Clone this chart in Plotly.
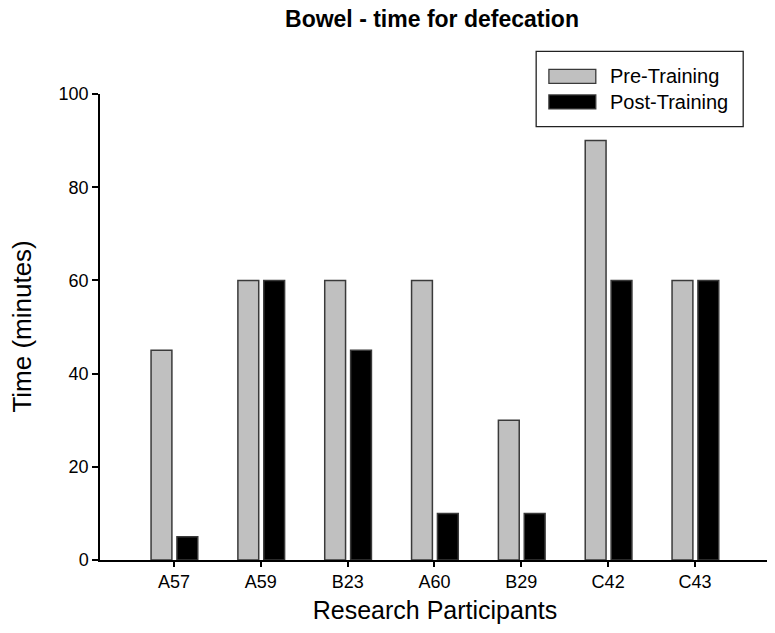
import plotly.graph_objects as go

# participantes y tiempos (minutos)
participants = ['A57', 'A59', 'B23', 'A60', 'B29', 'C42', 'C43']
pre_training = [45, 60, 60, 60, 30, 90, 60]
post_training = [5, 60, 45, 10, 10, 60, 60]

FONT = 'Arial, Liberation Sans, sans-serif'
GRIS = '#c0c0c0'
BORDE = '#3a3a3a'

# la pagina tiene 8px de margen en el body, se compensa en el tamaño
W, H = 767, 617

trace_pre = go.Bar(
    x=participants, y=pre_training, name='Pre-Training',
    offset=-0.264, width=0.24,
    marker=dict(color=GRIS, line=dict(color=BORDE, width=1.5)),
    showlegend=False,
)
trace_post = go.Bar(
    x=participants, y=post_training, name='Post-Training',
    offset=0.034, width=0.24,
    marker=dict(color='black', line=dict(color=BORDE, width=1.5)),
    showlegend=False,
)

fig = go.Figure(data=[trace_pre, trace_post])

# leyenda dibujada a mano (caja + muestras + textos)
shapes = [
    dict(type='rect', xref='paper', yref='paper', x0=0.651, x1=0.960, y0=0.930, y1=1.0915,
         line=dict(color='#222', width=1.3), fillcolor='white', layer='above'),
    dict(type='rect', xref='paper', yref='paper', x0=0.670, x1=0.740, y0=1.023, y1=1.053,
         line=dict(color=BORDE, width=1.3), fillcolor=GRIS),
    dict(type='rect', xref='paper', yref='paper', x0=0.670, x1=0.740, y0=0.968, y1=0.998,
         line=dict(color=BORDE, width=1.3), fillcolor='black'),
]
annotations = [
    dict(xref='paper', yref='paper', x=0.758, y=1.038, text='Pre-Training', showarrow=False,
         xanchor='left', yanchor='middle', font=dict(family=FONT, size=20, color='black')),
    dict(xref='paper', yref='paper', x=0.758, y=0.983, text='Post-Training', showarrow=False,
         xanchor='left', yanchor='middle', font=dict(family=FONT, size=20, color='black')),
    # titulo del eje y como anotacion para ubicarlo mejor
    dict(xref='paper', yref='paper', x=-0.117, y=0.5, text='Time (minutes)', showarrow=False,
         textangle=-90, xanchor='center', yanchor='middle',
         font=dict(family=FONT, size=26, color='black')),
]

fig.update_layout(
    width=W, height=H,
    margin=dict(l=92, r=5, t=86, b=61),
    paper_bgcolor='white', plot_bgcolor='white',
    barmode='overlay',
    font=dict(family=FONT, color='black'),
    title=dict(text='<b>Bowel - time for defecation</b>', x=424 / W, xanchor='center',
               y=1 - 11 / H, yanchor='middle', font=dict(family=FONT, size=23, color='black')),
    xaxis=dict(
        type='category', range=[-0.852, 6.864],
        showline=True, linecolor='black', linewidth=1.5,
        ticks='outside', ticklen=5, tickwidth=1.5, tickcolor='black',
        tickfont=dict(family=FONT, size=18, color='black'),
        showgrid=False, zeroline=False,
        title=dict(text='Research Participants', standoff=10,
                   font=dict(family=FONT, size=25, color='black')),
    ),
    yaxis=dict(
        range=[0, 100], dtick=20,
        showline=True, linecolor='black', linewidth=1.5,
        ticks='outside', ticklen=6, tickwidth=1.5, tickcolor='black',
        tickfont=dict(family=FONT, size=18, color='black'),
        showgrid=False, zeroline=False,
    ),
    shapes=shapes,
    annotations=annotations,
)

fig.write_html('out.html')
